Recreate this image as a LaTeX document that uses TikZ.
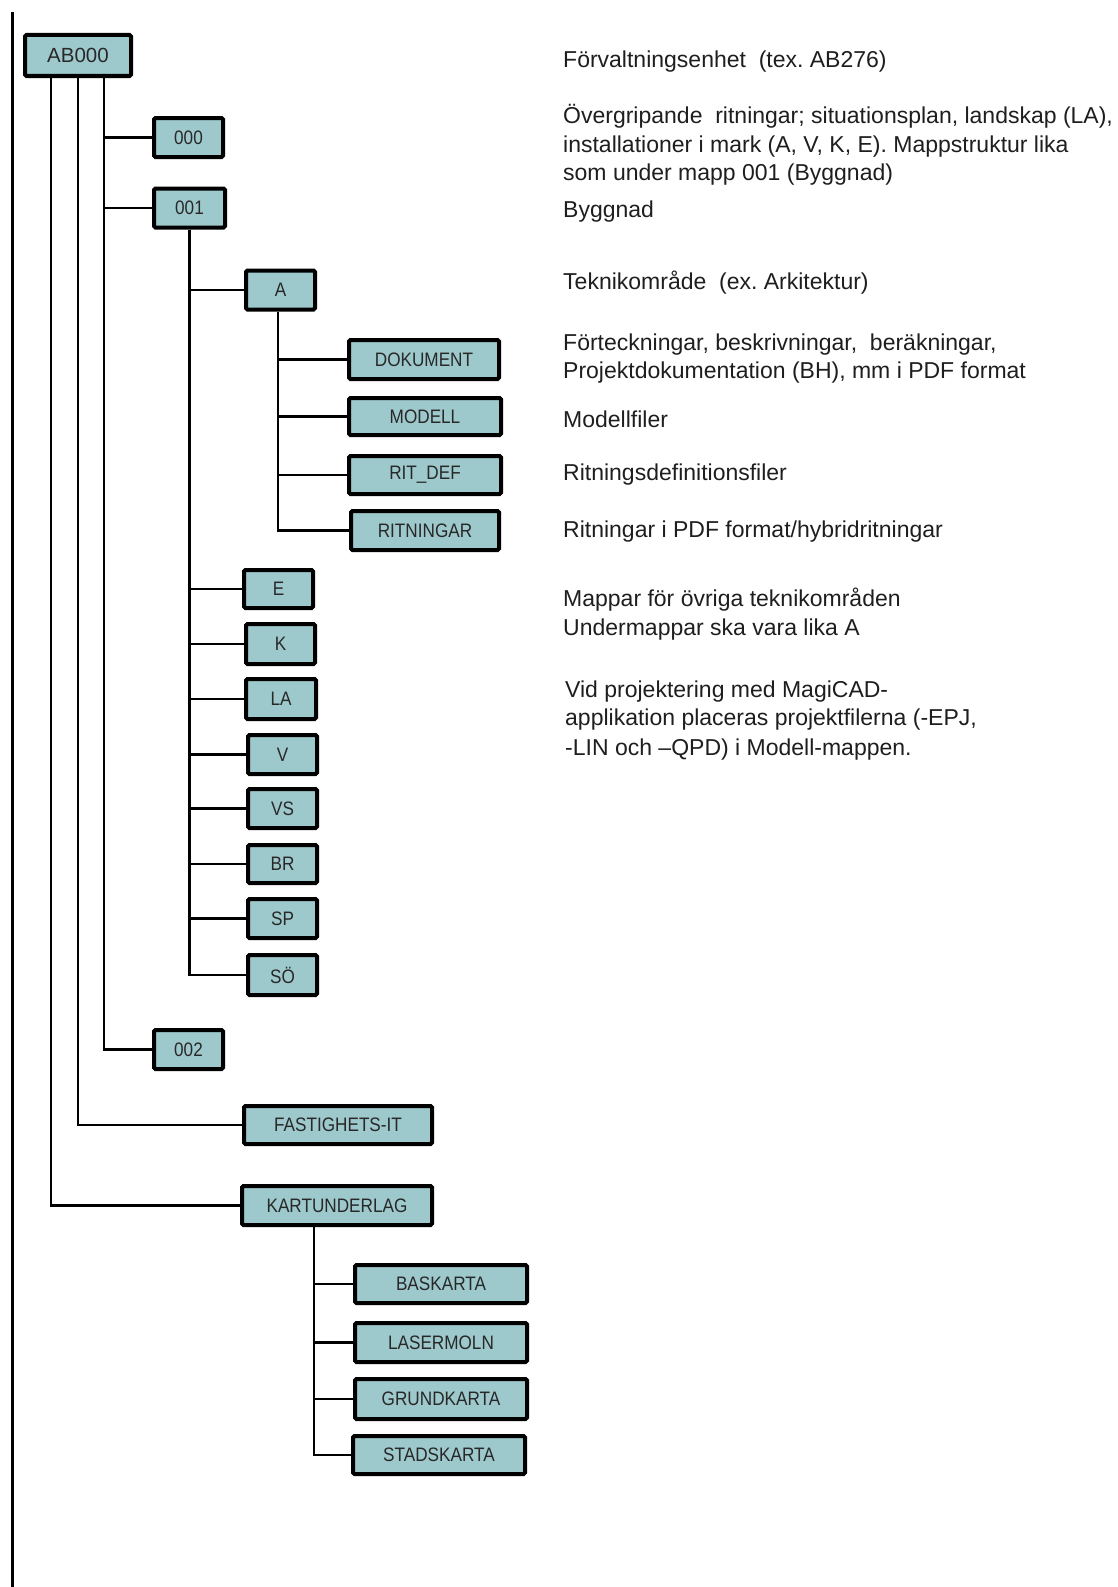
\documentclass[tikz,border=0pt]{standalone}
\usepackage{fontspec}
\setmainfont{Liberation Sans}
\newfontfamily\boxfont[FakeStretch=0.88]{Liberation Sans}
\frenchspacing
\definecolor{boxfill}{RGB}{158,201,204}
\definecolor{txt}{RGB}{30,30,30}
\definecolor{btxt}{RGB}{40,40,40}
\tikzset{
  folder/.style={draw=black, line width=4pt, fill=boxfill, rounded corners=1.5pt,
    inner sep=0pt, text=btxt, font=\boxfont\fontsize{19.5}{22}\selectfont,
    minimum height=39pt},
  conn/.style={draw=black, line width=2.8pt},
  desc/.style={anchor=base west, inner sep=0pt, text=txt,
    font=\fontsize{23}{28.5}\selectfont}
}
\begin{document}
\begin{tikzpicture}[x=1pt,y=-1pt]
\useasboundingbox (0,0) rectangle (1117,1587);
% left border line
\draw[line width=3pt] (12.5,12) -- (12.5,1587);

% folders
\node[folder, minimum width=106, minimum height=41, font=\fontsize{20.5}{22}\selectfont] (ab) at (78,55.5) {AB000};
\node[folder, minimum width=69] (n000) at (188.5,137.5) {000};
\node[folder, minimum width=71] (n001) at (189.5,208) {001};
\node[folder, minimum width=69] (nA) at (280.5,290) {A};
\node[folder, minimum width=150] (dok) at (424,359.5) {DOKUMENT};
\node[folder, minimum width=152, minimum height=37] (mod) at (425,416.5) {MODELL};
\node[folder, minimum width=152, minimum height=38] (rit) at (425,475) {RIT\_DEF};
\node[folder, minimum width=148] (ritn) at (425,530.5) {RITNINGAR};
\node[folder, minimum width=69, minimum height=38] (nE) at (278.5,589) {E};
\node[folder, minimum width=69, minimum height=40] (nK) at (280.5,644) {K};
\node[folder, minimum width=70, minimum height=40] (nLA) at (281,699) {LA};
\node[folder, minimum width=69] (nV) at (282.5,754.5) {V};
\node[folder, minimum width=69] (nVS) at (282.5,808.5) {VS};
\node[folder, minimum width=69, minimum height=38] (nBR) at (282.5,864) {BR};
\node[folder, minimum width=69] (nSP) at (282.5,918.5) {SP};
\node[folder, minimum width=69, minimum height=40] (nSO) at (282.5,975) {SÖ};
\node[folder, minimum width=69] (n002) at (188.5,1049.5) {002};
\node[folder, minimum width=188, minimum height=38] (fast) at (338,1125) {FASTIGHETS-IT};
\node[folder, minimum width=190] (kart) at (337,1205.5) {KARTUNDERLAG};
\node[folder, minimum width=172, minimum height=38] (bas) at (441,1284) {BASKARTA};
\node[folder, minimum width=172] (las) at (441,1342.5) {LASERMOLN};
\node[folder, minimum width=172, minimum height=40] (grund) at (441,1399) {GRUNDKARTA};
\node[folder, minimum width=172, minimum height=38] (stad) at (439,1455) {STADSKARTA};

% trunk coordinates
\coordinate (t1) at (51,0);
\coordinate (t2) at (78,0);
\coordinate (t3) at (104,0);
\coordinate (tA) at (278,0);
\coordinate (tK) at (314,0);

% connectors from AB000
\draw[conn] (ab.south -| t3) |- (n002.west);
\draw[conn] (t3 |- n000.west) -- (n000.west);
\draw[conn] (t3 |- n001.west) -- (n001.west);
\draw[conn] (ab.south -| t2) |- (fast.west);
\draw[conn] (ab.south -| t1) |- (kart.west);

% connectors from 001
\draw[conn] (n001.south) |- (nSO.west);
\foreach \n in {nA,nE,nK,nLA,nV,nVS,nBR,nSP}
  \draw[conn] (n001.south |- \n.west) -- (\n.west);

% connectors from A
\draw[conn] (nA.south -| tA) |- (ritn.west);
\foreach \n in {dok,mod,rit}
  \draw[conn] (tA |- \n.west) -- (\n.west);

% connectors from KARTUNDERLAG
\draw[conn] (kart.south -| tK) |- (stad.west);
\foreach \n in {bas,las,grund}
  \draw[conn] (tK |- \n.west) -- (\n.west);

% descriptions
\node[desc] (d1) at (563,67) {Förvaltningsenhet\ \ (tex. AB276)};
\node[desc] (d2a) at (563,123) {Övergripande\ \ ritningar; situationsplan, landskap (LA),};
\node[desc] (d2b) at (563,152) {installationer i mark (A, V, K, E). Mappstruktur lika};
\node[desc] (d2c) at (563,180) {som under mapp 001 (Byggnad)};
\node[desc] (d3) at (563,217) {Byggnad};
\node[desc] (d4) at (563,289) {Teknikområde\ \ (ex. Arkitektur)};
\node[desc] (d5a) at (563,350) {Förteckningar, beskrivningar,\ \ beräkningar,};
\node[desc] (d5b) at (563,378) {Projektdokumentation (BH), mm i PDF format};
\node[desc] (d6) at (563,427) {Modellfiler};
\node[desc] (d7) at (563,480) {Ritningsdefinitionsfiler};
\node[desc] (d8) at (563,537) {Ritningar i PDF format/hybridritningar};
\node[desc] (d9a) at (563,606) {Mappar för övriga teknikområden};
\node[desc] (d9b) at (563,635) {Undermappar ska vara lika A};
\node[desc] (d10a) at (565,697) {Vid projektering med MagiCAD-};
\node[desc] (d10b) at (565,725) {applikation placeras projektfilerna (-EPJ,};
\node[desc] (d10c) at (565,755) {-LIN och –QPD) i Modell-mappen.};
\end{tikzpicture}
\end{document}
